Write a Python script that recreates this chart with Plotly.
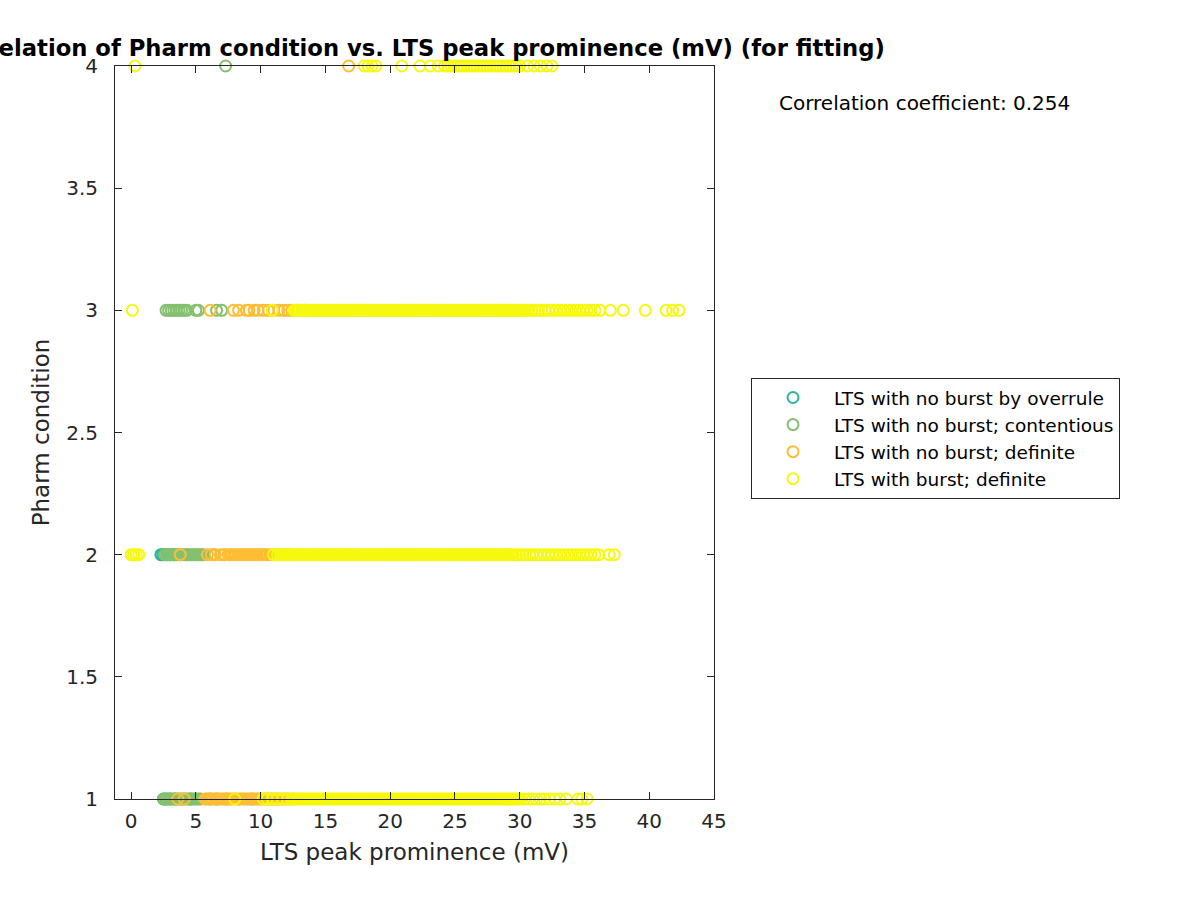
import plotly.graph_objects as go

# ---------------- data ----------------
series_names = [
    "LTS with no burst by overrule",
    "LTS with no burst; contentious",
    "LTS with no burst; definite",
    "LTS with burst; definite",
]
series_colors = ["#2ab59d", "#84c06e", "#fdbe35", "#f6f80f"]

# overrule (teal)
overrule_x_2 = [2.3, 2.45, 2.6, 2.8, 3.0, 3.3]
overrule_x_1 = [2.5, 2.7, 3.0, 3.4, 4.6]

# contentious (green)
contentious_x_4 = [7.3]
contentious_x_3 = [2.7, 2.9, 3.1, 3.3, 3.5, 3.7, 3.9, 4.1, 4.3, 5.0, 5.2, 6.6, 7.0]
contentious_x_2 = [2.6, 2.75, 2.9, 3.05, 3.2, 3.35, 3.5, 3.65, 3.8, 3.95, 4.1,
                   4.25, 4.4, 4.55, 4.7, 4.85, 5.0, 5.15, 5.3, 5.45, 5.6, 6.4, 7.2]
contentious_x_1 = [2.5, 2.65, 2.8, 2.95, 3.1, 3.25, 3.4, 3.55, 3.7, 3.85, 4.0,
                   4.15, 4.3, 4.45, 4.6, 4.75, 4.9, 5.05, 5.2, 5.35, 6.1, 6.6,
                   7.4, 9.3]

# no burst, definite (orange)
nob_x_4 = [16.8]
nob_x_3 = [6.1, 7.9, 8.3, 8.9, 9.1, 9.5, 9.8, 10.2, 10.6, 11.0, 11.4, 11.8,
           12.1, 12.4, 12.8, 13.4]
nob_x_2 = [3.8, 5.9, 6.2, 6.5, 6.9, 7.2, 7.5, 7.65, 7.8, 7.95, 8.1, 8.25, 8.4,
           8.55, 8.7, 8.85, 9.0, 9.15, 9.3, 9.45, 9.6, 9.75, 9.9, 10.05, 10.2,
           10.35, 10.5, 10.8, 11.1, 11.4, 11.8, 12.2]
nob_x_1 = [3.6, 4.1, 5.7, 5.85, 6.0, 6.15, 6.3, 6.45, 6.6, 6.75, 6.9, 7.05,
           7.2, 7.35, 7.5, 7.65, 7.8, 7.95, 8.1, 8.25, 8.4, 8.55, 8.7, 8.85,
           9.0, 9.15, 9.3, 9.45, 9.6, 9.75, 9.9, 10.05, 10.2, 10.35, 10.5,
           10.65, 10.8, 10.95, 11.1, 11.25, 11.4, 11.6, 11.8, 12.0, 12.2, 12.5]

# burst, definite (yellow)
burst_x_4 = [0.3, 18.0, 18.3, 18.6, 18.9, 20.9, 22.3, 23.1, 23.7, 24.2, 24.45,
             24.7, 24.95, 25.2, 25.45, 25.7, 25.95, 26.2, 26.45, 26.7, 26.95,
             27.2, 27.45, 27.7, 27.95, 28.2, 28.45, 28.7, 28.95, 29.2, 29.45,
             29.7, 30.0, 30.6, 31.1, 31.6, 32.1, 32.5]
burst_x_3 = [0.1, 10.9,
             12.6, 12.75, 12.9, 13.05, 13.2, 13.35, 13.5, 13.65, 13.8, 13.95,
             14.1, 14.25, 14.4, 14.55, 14.7, 14.85, 15.0, 15.15, 15.3, 15.45,
             15.6, 15.75, 15.9, 16.05, 16.2, 16.35, 16.5, 16.65, 16.8, 16.95,
             17.1, 17.25, 17.4, 17.55, 17.7, 17.85, 18.0, 18.15, 18.3, 18.45,
             18.6, 18.75, 18.9, 19.05, 19.2, 19.35, 19.5, 19.65, 19.8, 19.95,
             20.1, 20.25, 20.4, 20.55, 20.7, 20.85, 21.0, 21.15, 21.3, 21.45,
             21.6, 21.75, 21.9, 22.05, 22.2, 22.35, 22.5, 22.65, 22.8, 22.95,
             23.1, 23.25, 23.4, 23.55, 23.7, 23.85, 24.0, 24.15, 24.3, 24.45,
             24.6, 24.75, 24.9, 25.05, 25.2, 25.35, 25.5, 25.65, 25.8, 25.95,
             26.1, 26.25, 26.4, 26.55, 26.7, 26.85, 27.0, 27.15, 27.3, 27.45,
             27.6, 27.75, 27.9, 28.05, 28.2, 28.35, 28.5, 28.65, 28.8, 28.95,
             29.1, 29.25, 29.4, 29.55, 29.7, 29.85, 30.0, 30.15, 30.3, 30.45,
             30.7, 30.95, 31.2, 31.45, 31.7, 31.95, 32.2, 32.5, 32.8, 33.1,
             33.4, 33.7, 34.0, 34.3, 34.6, 34.9, 35.2, 35.5, 35.8, 36.2, 37.0,
             38.0, 39.7, 41.3, 41.8, 42.3]
burst_x_2 = [0.0, 0.2, 0.4, 0.6, 11.0, 11.3,
             11.5, 11.65, 11.8, 11.95, 12.1, 12.25, 12.4, 12.55, 12.7, 12.85,
             13.0, 13.15, 13.3, 13.45, 13.6, 13.75, 13.9, 14.05, 14.2, 14.35,
             14.5, 14.65, 14.8, 14.95, 15.1, 15.25, 15.4, 15.55, 15.7, 15.85,
             16.0, 16.15, 16.3, 16.45, 16.6, 16.75, 16.9, 17.05, 17.2, 17.35,
             17.5, 17.65, 17.8, 17.95, 18.1, 18.25, 18.4, 18.55, 18.7, 18.85,
             19.0, 19.15, 19.3, 19.45, 19.6, 19.75, 19.9, 20.05, 20.2, 20.35,
             20.5, 20.65, 20.8, 20.95, 21.1, 21.25, 21.4, 21.55, 21.7, 21.85,
             22.0, 22.15, 22.3, 22.45, 22.6, 22.75, 22.9, 23.05, 23.2, 23.35,
             23.5, 23.65, 23.8, 23.95, 24.1, 24.25, 24.4, 24.55, 24.7, 24.85,
             25.0, 25.15, 25.3, 25.45, 25.6, 25.75, 25.9, 26.05, 26.2, 26.35,
             26.5, 26.65, 26.8, 26.95, 27.1, 27.25, 27.4, 27.55, 27.7, 27.85,
             28.0, 28.15, 28.3, 28.45, 28.6, 28.75, 28.9, 29.05, 29.2, 29.35,
             29.5, 29.75, 30.0, 30.25, 30.5, 30.75, 31.0, 31.3, 31.6, 31.9,
             32.2, 32.5, 32.8, 33.1, 33.4, 33.7, 34.0, 34.3, 34.6, 34.9, 35.2,
             35.5, 35.8, 36.1, 36.9, 37.3]
burst_x_1 = [8.0, 10.2, 10.5, 10.9, 11.3, 11.7, 12.1,
             12.4, 12.55, 12.7, 12.85, 13.0, 13.15, 13.3, 13.45, 13.6, 13.75,
             13.9, 14.05, 14.2, 14.35, 14.5, 14.65, 14.8, 14.95, 15.1, 15.25,
             15.4, 15.55, 15.7, 15.85, 16.0, 16.15, 16.3, 16.45, 16.6, 16.75,
             16.9, 17.05, 17.2, 17.35, 17.5, 17.65, 17.8, 17.95, 18.1, 18.25,
             18.4, 18.55, 18.7, 18.85, 19.0, 19.15, 19.3, 19.45, 19.6, 19.75,
             19.9, 20.05, 20.2, 20.35, 20.5, 20.65, 20.8, 20.95, 21.1, 21.25,
             21.4, 21.55, 21.7, 21.85, 22.0, 22.15, 22.3, 22.45, 22.6, 22.75,
             22.9, 23.05, 23.2, 23.35, 23.5, 23.65, 23.8, 23.95, 24.1, 24.25,
             24.4, 24.55, 24.7, 24.85, 25.0, 25.15, 25.3, 25.45, 25.6, 25.75,
             25.9, 26.05, 26.2, 26.35, 26.5, 26.65, 26.8, 26.95, 27.1, 27.25,
             27.4, 27.55, 27.7, 27.85, 28.0, 28.15, 28.3, 28.45, 28.6, 28.75,
             28.9, 29.05, 29.2, 29.35, 29.5, 29.65, 29.8, 29.95, 30.1,
             30.4, 30.7, 31.0, 31.3, 31.6, 31.9, 32.3, 32.7, 33.1, 33.6, 34.5,
             34.8, 35.2]

x_ticks = [0, 5, 10, 15, 20, 25, 30, 35, 40, 45]
y_ticks = [1, 1.5, 2, 2.5, 3, 3.5, 4]
y_tick_text = ["1", "1.5", "2", "2.5", "3", "3.5", "4"]
corr_coef = 0.254
title_text = "Correlation of Pharm condition vs. LTS peak prominence (mV) (for fitting)"

groups = [
    [(overrule_x_2, 2), (overrule_x_1, 1)],
    [(contentious_x_4, 4), (contentious_x_3, 3), (contentious_x_2, 2), (contentious_x_1, 1)],
    [(nob_x_4, 4), (nob_x_3, 3), (nob_x_2, 2), (nob_x_1, 1)],
    [(burst_x_4, 4), (burst_x_3, 3), (burst_x_2, 2), (burst_x_1, 1)],
]

# ---------------- figure ----------------
FONT = "DejaVu Sans"
AX = "#262626"

fig = go.Figure()
for name, color, parts in zip(series_names, series_colors, groups):
    xs, ys = [], []
    for xv, yv in parts:
        xs += xv
        ys += [yv] * len(xv)
    fig.add_trace(go.Scatter(
        x=xs, y=ys, mode="markers", name=name,
        marker=dict(symbol="circle-open", size=11, color=color,
                    line=dict(width=2, color=color)),
        cliponaxis=False,
    ))

axis_common = dict(
    showgrid=False, zeroline=False, showline=True, linecolor=AX, linewidth=1,
    mirror="ticks", ticks="inside", ticklen=7, tickcolor=AX, tickwidth=1,
    tickfont=dict(family=FONT, size=20, color=AX),
)

fig.update_layout(
    width=1200, height=900,
    margin=dict(l=115, r=486, t=66, b=101),
    paper_bgcolor="white", plot_bgcolor="white",
    xaxis=dict(range=[-1.24, 45], tickvals=x_ticks, ticklabelstandoff=4,
               title=dict(text="LTS peak prominence (mV)", standoff=11,
                          font=dict(family=FONT, size=23, color=AX)),
               **axis_common),
    yaxis=dict(range=[1, 4], tickvals=y_ticks, ticktext=y_tick_text,
               ticklabelstandoff=12,
               title=dict(text="Pharm condition", standoff=10,
                          font=dict(family=FONT, size=23, color=AX)),
               **axis_common),
    legend=dict(
        x=(751 - 115) / 599, y=(799 - 378) / 733, xanchor="left", yanchor="top",
        bordercolor=AX, borderwidth=1, bgcolor="white",
        font=dict(family=FONT, size=18.5, color="black"),
        itemwidth=72, tracegroupgap=0,
    ),
    showlegend=True,
    annotations=[
        dict(
            text=f"<b>{title_text}</b>",
            xref="paper", yref="paper", x=0.5, y=(799 - 48) / 733,
            xanchor="center", yanchor="middle", showarrow=False,
            font=dict(family=FONT, size=22.7, color="black"),
        ),
        dict(
            text=f"Correlation coefficient: {corr_coef}",
            xref="paper", yref="paper",
            x=(777 - 115) / 599, y=(799 - 103) / 733,
            xanchor="left", yanchor="middle", showarrow=False,
            font=dict(family=FONT, size=20, color="black"),
        ),
    ],
)

fig.write_html("out.html")
